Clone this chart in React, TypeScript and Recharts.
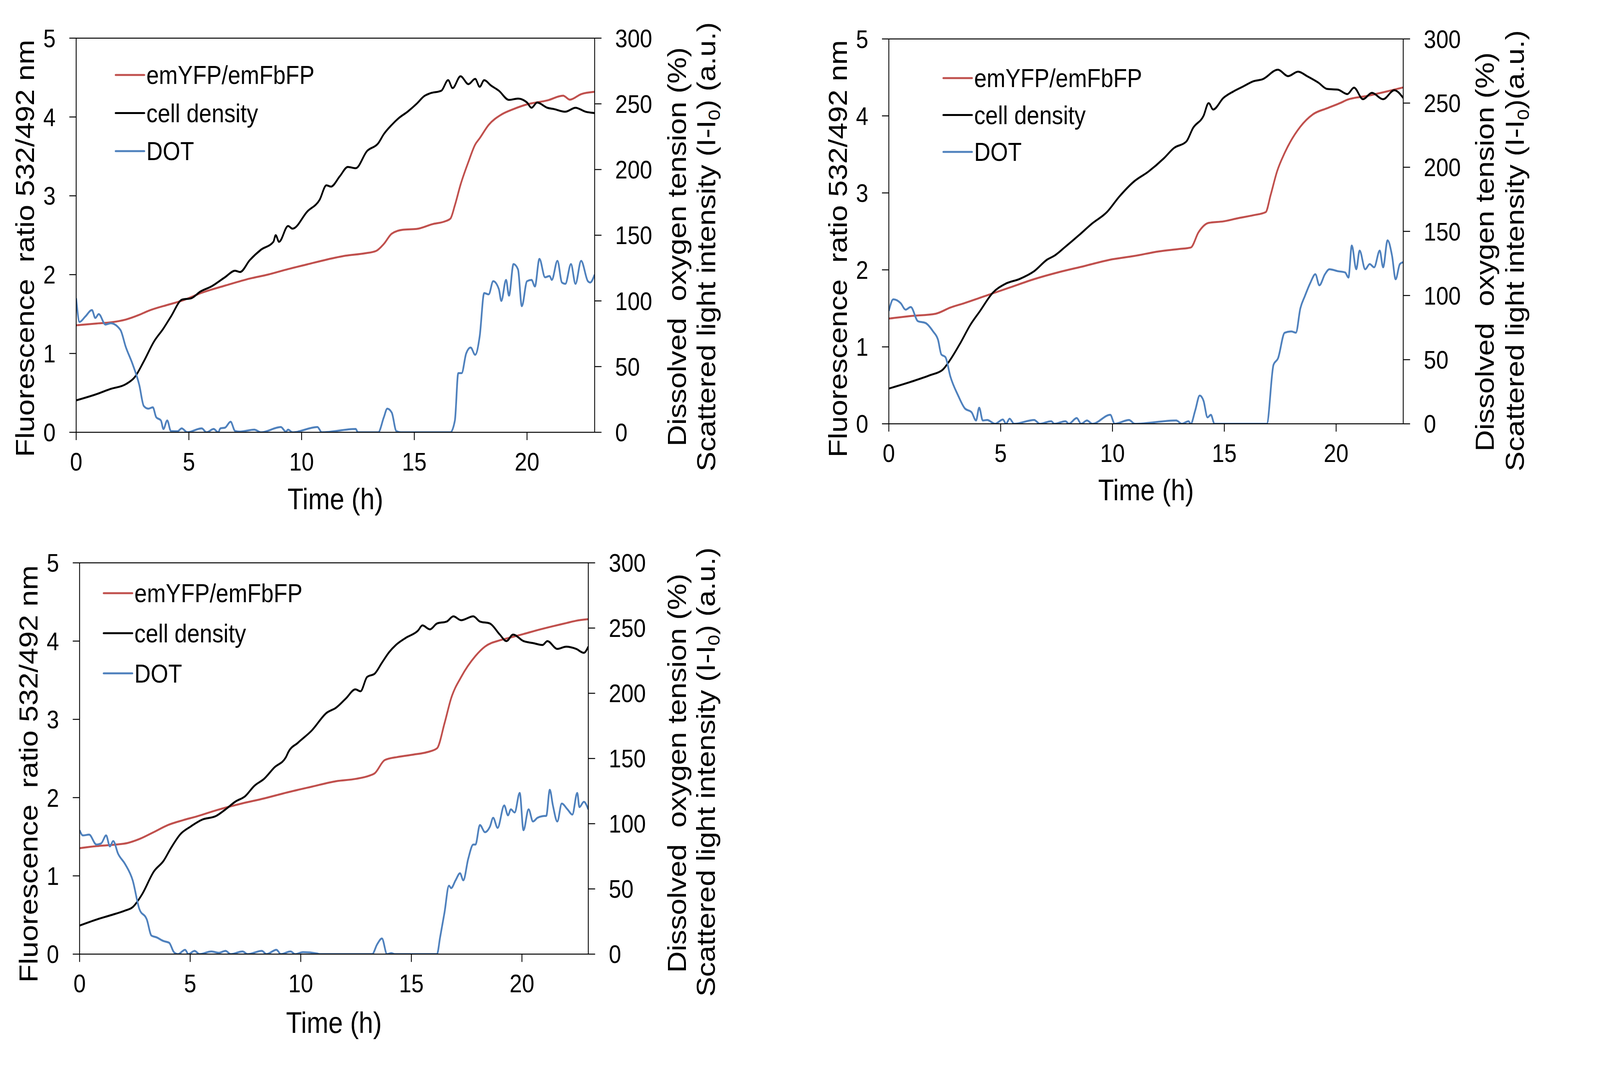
import React from 'react';
import { LineChart, Line, XAxis, YAxis, ReferenceLine, Legend } from 'recharts';

type Pt = [number, number];

// --- shared axis settings ---
const TIME_TICKS = [0, 5, 10, 15, 20];
const RATIO_TICKS = [0, 1, 2, 3, 4, 5];
const RIGHT_TICKS = [0, 50, 100, 150, 200, 250, 300];
const SERIES_NAMES = ['emYFP/emFbFP', 'cell density', 'DOT'];
const SERIES_COLORS = ['#C0504D', '#000000', '#4F81BD'];

// --- panel A (top left): [time h, value] ---
const aRatio: Pt[] = [
  [0, 1.357], [0.5, 1.37], [0.9, 1.38], [1.53, 1.395], [2.2, 1.43], [2.8, 1.49], [3.2, 1.54],
  [4.1, 1.62], [4.7, 1.67], [5.57, 1.77], [6.6, 1.86], [7.7, 1.95], [8.5, 2.0], [9.4, 2.07],
  [10.25, 2.13], [11.1, 2.19], [11.95, 2.24], [12.8, 2.27], [13.3, 2.3], [13.65, 2.39], [14.0, 2.52],
  [14.5, 2.57], [15.1, 2.58], [15.8, 2.64], [16.4, 2.68], [16.6, 2.71], [16.8, 2.88], [17.05, 3.14],
  [17.4, 3.43], [17.7, 3.65], [17.9, 3.73], [18.3, 3.9], [18.86, 4.03], [19.4, 4.1], [20.0, 4.16],
  [20.9, 4.21], [21.6, 4.27], [21.9, 4.22], [22.4, 4.29], [23, 4.32],
];
const aDensity: Pt[] = [
  [0, 24.3], [0.9, 29], [1.53, 33], [2.2, 36.6], [2.6, 42], [3.0, 54], [3.45, 69], [3.87, 79],
  [4.2, 88], [4.7, 101], [5.1, 102], [5.5, 107], [6.0, 111], [6.6, 118], [7.05, 123], [7.27, 122],
  [7.7, 131], [8.2, 139], [8.75, 145], [8.85, 150], [9.0, 145], [9.4, 157], [9.6, 155], [10.25, 168],
  [10.8, 177], [11.1, 188], [11.3, 187], [11.7, 195], [12.05, 202], [12.4, 201], [12.9, 214],
  [13.4, 220], [13.65, 227], [14.0, 234], [14.3, 239], [14.7, 244], [15.1, 250], [15.45, 256],
  [15.7, 258], [16.2, 260], [16.5, 268], [16.7, 262], [17.05, 271], [17.4, 265], [17.7, 269],
  [17.9, 263], [18.1, 268], [18.4, 264], [18.75, 260], [19.2, 253], [19.6, 254], [20.0, 251],
  [20.2, 247], [20.45, 251], [20.9, 247], [21.2, 246], [21.7, 244], [22.15, 247], [22.6, 244], [23, 243],
];
const aDot: Pt[] = [
  [0, 102], [0.15, 84], [0.4, 88], [0.7, 93], [0.85, 87], [1.0, 90], [1.3, 82], [1.53, 83],
  [1.96, 78], [2.2, 65], [2.5, 52], [2.8, 36], [3.0, 20], [3.2, 18], [3.4, 19], [3.55, 11.5],
  [3.76, 9], [3.87, 2.5], [4.04, 9], [4.2, 1], [4.5, 0.8], [4.68, 3], [4.93, 0], [5.57, 3],
  [5.78, 0], [6.1, 2.5], [6.3, 0], [6.4, 3], [6.6, 3.5], [6.85, 8], [7.05, 1], [7.27, 0.5],
  [7.9, 2], [8.2, 0], [9.08, 4], [9.3, 0.5], [9.4, 2], [9.6, 0], [10.7, 4], [10.9, 0],
  [12.4, 2.5], [12.5, 0], [13.4, 0], [13.65, 11.5], [13.8, 18], [14.0, 15], [14.2, 1], [14.4, 0],
  [16.6, 0], [16.8, 9], [16.95, 45], [17.1, 45], [17.3, 60], [17.5, 64.5], [17.7, 59], [17.9, 73],
  [18.1, 106], [18.3, 105], [18.5, 115], [18.75, 109], [18.86, 100], [19.07, 116], [19.2, 104],
  [19.4, 128], [19.6, 124], [19.77, 96], [20.0, 115], [20.2, 116], [20.35, 111], [20.55, 132],
  [20.8, 118], [21.0, 119], [21.1, 116], [21.35, 130.5], [21.55, 114], [21.7, 113], [21.95, 128],
  [22.15, 113], [22.4, 130.5], [22.7, 115], [22.8, 114], [23, 120],
];

// --- panel B (top right) ---
const bRatio: Pt[] = [
  [0, 1.367], [0.98, 1.4], [2.09, 1.43], [2.75, 1.51], [3.4, 1.57], [4.3, 1.66], [5.4, 1.77],
  [6.5, 1.88], [7.6, 1.97], [8.75, 2.05], [9.86, 2.13], [10.97, 2.18], [12.08, 2.24], [12.96, 2.27],
  [13.5, 2.29], [13.85, 2.49], [14.3, 2.61], [14.96, 2.63], [15.6, 2.67], [16.3, 2.71], [16.85, 2.75],
  [17.07, 2.97], [17.36, 3.28], [17.7, 3.52], [18.4, 3.86], [18.96, 4.02], [19.6, 4.1], [20.2, 4.17],
  [20.5, 4.21], [21.4, 4.26], [22.3, 4.32], [23, 4.37],
];
const bDensity: Pt[] = [
  [0, 27.5], [0.98, 32.7], [1.86, 38], [2.4, 42], [2.75, 50], [3.2, 63], [3.64, 77], [4.08, 88],
  [4.64, 102], [5.2, 109], [5.86, 113], [6.5, 119], [7.08, 128], [7.4, 131], [7.86, 137.5],
  [8.5, 147], [9.08, 156], [9.75, 165], [10.3, 177], [10.97, 189], [11.6, 196.5], [12.3, 207],
  [12.75, 215], [13.3, 220], [13.6, 230.5], [14.07, 240], [14.3, 250], [14.5, 245], [14.96, 254],
  [15.4, 259], [15.85, 263], [16.3, 267], [16.7, 268.5], [17.4, 276], [17.85, 271], [18.3, 274.5],
  [18.7, 271], [19.2, 266], [19.6, 261], [20.07, 260.5], [20.5, 257], [20.8, 262], [21.2, 253],
  [21.6, 258], [22.1, 253], [22.6, 260], [23, 254],
];
const bDot: Pt[] = [
  [0, 88], [0.2, 97], [0.53, 94], [0.75, 89], [0.98, 91], [1.3, 80], [1.64, 78.6], [1.98, 72],
  [2.2, 65.5], [2.35, 54], [2.53, 52], [2.75, 37], [3.1, 22], [3.4, 12], [3.7, 9], [3.9, 2.6],
  [4.04, 12.6], [4.2, 2.6], [4.4, 3], [4.75, 0], [5.1, 3.4], [5.24, 0], [5.4, 4], [5.6, 0],
  [6.5, 3], [6.75, 0], [7.26, 2], [7.4, 0], [7.9, 2], [8.05, 0], [8.4, 4.5], [8.6, 0],
  [8.86, 2.6], [9.1, 0], [9.9, 7], [10.1, 0], [10.74, 3], [11.0, 0], [12.85, 2.6], [13.1, 0],
  [13.4, 2], [13.5, 0], [13.7, 10.5], [13.9, 22], [14.07, 18], [14.25, 5], [14.4, 7], [14.56, 0],
  [16.9, 0], [17.2, 46], [17.4, 51], [17.7, 71], [18.0, 72], [18.2, 71], [18.4, 90], [18.6, 99.5],
  [18.85, 110], [19.07, 116.6], [19.25, 108], [19.5, 116.6], [19.7, 120.5], [20.07, 119],
  [20.4, 118], [20.55, 114], [20.7, 139], [20.9, 120.5], [21.05, 135], [21.3, 120.5], [21.5, 124.5],
  [21.7, 122], [21.95, 135], [22.1, 122], [22.3, 143], [22.5, 131], [22.66, 112.7], [22.85, 124.5],
  [23, 126],
];

// --- panel C (bottom left) ---
const cRatio: Pt[] = [
  [0, 1.354], [0.76, 1.38], [1.63, 1.4], [2.17, 1.42], [2.7, 1.47], [3.36, 1.56], [4.0, 1.65],
  [4.66, 1.71], [5.3, 1.76], [6.2, 1.84], [7.27, 1.92], [8.35, 1.99], [9.44, 2.07], [10.5, 2.14],
  [11.6, 2.21], [12.5, 2.24], [13.1, 2.28], [13.34, 2.31], [13.8, 2.48], [14.4, 2.52], [15.1, 2.55],
  [15.7, 2.58], [16.16, 2.63], [16.5, 2.95], [16.8, 3.27], [17.25, 3.54], [17.9, 3.81], [18.33, 3.93],
  [19.0, 4.01], [19.4, 4.04], [20.07, 4.09], [20.7, 4.14], [21.4, 4.19], [22.0, 4.23], [22.45, 4.26],
  [23, 4.28],
];
const cDensity: Pt[] = [
  [0, 21.9], [0.76, 26.5], [1.4, 29.8], [2.06, 33.4], [2.4, 36], [2.82, 45.7], [3.36, 63.4],
  [3.8, 71.6], [4.12, 81], [4.56, 92], [5.0, 97.6], [5.53, 103], [6.18, 106], [6.6, 111], [7.05, 117],
  [7.48, 121], [7.9, 129], [8.35, 134.5], [8.8, 143], [9.33, 151], [9.44, 155], [9.87, 162],
  [10.5, 171.5], [11.17, 185], [11.6, 189], [12.04, 196], [12.47, 203], [12.7, 201.5], [13.0, 212.5],
  [13.34, 215], [13.67, 223.4], [14.0, 231.6], [14.3, 237], [14.75, 242.5], [15.3, 248], [15.5, 252],
  [15.84, 249], [16.16, 253.5], [16.6, 255], [16.9, 259], [17.25, 256], [17.8, 259], [18.1, 255],
  [18.55, 253.5], [19.0, 245], [19.3, 240], [19.6, 245], [20.07, 240], [20.5, 238.5], [20.93, 237],
  [21.15, 240], [21.6, 234], [22.0, 235.7], [22.45, 234], [22.8, 231], [23, 235.7],
];
const cDot: Pt[] = [
  [0, 95], [0.15, 91], [0.43, 91.6], [0.76, 84], [0.98, 85], [1.2, 91], [1.37, 82.6], [1.52, 86.7],
  [1.74, 77], [2.06, 69], [2.4, 56.6], [2.7, 34.7], [3.04, 26.5], [3.25, 14.2], [3.47, 12.9],
  [3.8, 10], [4.05, 8.7], [4.27, 1.4], [4.45, 0], [4.77, 3.3], [4.92, 0], [5.2, 2.5], [5.42, 0],
  [5.96, 2], [6.3, 1], [6.6, 2.5], [6.83, 0], [7.37, 2], [7.6, 0], [8.24, 2.5], [8.45, 0],
  [8.9, 3.3], [9.1, 0], [9.54, 2], [9.75, 0], [10.1, 1.5], [10.74, 0.5], [10.85, 0], [13.23, 0],
  [13.45, 7.4], [13.67, 12], [13.9, 0], [14.1, 0.8], [14.25, 0], [16.16, 0], [16.3, 12.9], [16.5, 32],
  [16.7, 52.5], [16.8, 50.6], [17.0, 56.6], [17.2, 62], [17.35, 56.6], [17.57, 73], [17.8, 84],
  [17.9, 84], [18.1, 99], [18.33, 93.5], [18.55, 97.6], [18.7, 104.5], [18.9, 96.8], [19.2, 114],
  [19.37, 106.4], [19.5, 111], [19.67, 108.6], [19.9, 123.6], [20.07, 95], [20.3, 111], [20.5, 101.7],
  [20.7, 104.5], [20.93, 105.8], [21.1, 106], [21.26, 126], [21.4, 114], [21.6, 101.7], [21.8, 115.4],
  [22.06, 111], [22.28, 107], [22.5, 123.6], [22.6, 112.7], [22.8, 116.8], [23, 111],
];

const toRows = (pts: Pt[]) => pts.map(([t, v]) => ({ t, v }));

const PAGE_W = 4678;
const PAGE_H = 2781;
const FONT = '"Liberation Sans", Arial, sans-serif';
const TICK_FONT = 65;
const TITLE_FONT = 76;
const LEGEND_FONT = 66;
const AXIS_STYLE = { stroke: '#000', strokeWidth: 2.5 };

interface PanelProps {
  left: number;
  top: number;
  width: number;
  height: number;
  plot: { l: number; t: number; r: number; b: number };
  ratio: Pt[];
  density: Pt[];
  dot: Pt[];
  legend: { x: number; y: number; gap: number };
  leftTitle: { x: number; y: number };
  rightTitle: { x1: number; x2: number; y1: number; y2: number; spaced: boolean };
  xTitle: { x: number; y: number };
}

const Panel: React.FC<PanelProps> = (p) => {
  const rightW = 420;
  const xH = 220;
  const margin = {
    top: p.plot.t,
    left: 0,
    right: p.width - p.plot.r - rightW,
    bottom: p.height - p.plot.b - xH,
  };
  const series = [p.ratio, p.density, p.dot];

  const legendBox = () => (
    <svg width={700} height={p.legend.gap * 2 + 80} style={{ display: 'block', overflow: 'visible' }}>
      {SERIES_NAMES.map((name, i) => {
        const y = 40 + i * p.legend.gap;
        return (
          <g key={name}>
            <line x1={2} x2={86} y1={y} y2={y} stroke={SERIES_COLORS[i]} strokeWidth={5} strokeLinecap="round" />
            <text x={92} y={y} dy="0.355em" fontSize={LEGEND_FONT} fill="#000" fontFamily={FONT}>{name}</text>
          </g>
        );
      })}
    </svg>
  );

  const leftTitle = () => (
    <text
      x={p.leftTitle.x}
      y={p.leftTitle.y}
      transform={`rotate(-90, ${p.leftTitle.x}, ${p.leftTitle.y})`}
      textAnchor="middle"
      fontSize={TITLE_FONT}
      fill="#000"
    >
      Fluorescence{'\u00a0 '}ratio 532/492 nm
    </text>
  );

  const rightTitle = () => {
    const r = p.rightTitle;
    return (
      <g fontSize={TITLE_FONT} fill="#000">
        <text x={r.x1} y={r.y1} transform={`rotate(-90, ${r.x1}, ${r.y1})`} textAnchor="middle">
          Dissolved{'\u00a0 '}oxygen tension (%)
        </text>
        <text x={r.x2} y={r.y2} transform={`rotate(-90, ${r.x2}, ${r.y2})`} textAnchor="middle">
          Scattered light intensity (I-I
          <tspan fontSize={TITLE_FONT * 0.65} dy={14}>0</tspan>
          <tspan dy={-14}>){r.spaced ? ' ' : ''}(a.u.)</tspan>
        </text>
      </g>
    );
  };

  const xTitle = () => (
    <text x={p.xTitle.x} y={p.xTitle.y} textAnchor="middle" fontSize={TITLE_FONT} fill="#000">
      Time (h)
    </text>
  );

  return (
    <div style={{ position: 'absolute', left: p.left, top: p.top, width: p.width, height: p.height }}>
      <LineChart width={p.width} height={p.height} margin={margin} style={{ fontFamily: FONT }}>
        <XAxis
          type="number"
          dataKey="t"
          domain={[0, 23]}
          ticks={TIME_TICKS}
          interval={0}
          allowDataOverflow
          height={xH}
          tickSize={20}
          tickMargin={32}
          axisLine={AXIS_STYLE}
          tickLine={AXIS_STYLE}
          tick={{ fill: '#000', fontSize: TICK_FONT }}
          label={xTitle}
        />
        <YAxis
          yAxisId="left"
          orientation="left"
          domain={[0, 5]}
          ticks={RATIO_TICKS}
          interval={0}
          allowDataOverflow
          width={p.plot.l}
          tickSize={20}
          tickMargin={40}
          axisLine={AXIS_STYLE}
          tickLine={AXIS_STYLE}
          tick={{ fill: '#000', fontSize: TICK_FONT }}
          label={leftTitle}
        />
        <YAxis
          yAxisId="right"
          orientation="right"
          domain={[0, 300]}
          ticks={RIGHT_TICKS}
          interval={0}
          allowDataOverflow
          width={rightW}
          tickSize={20}
          tickMargin={40}
          axisLine={AXIS_STYLE}
          tickLine={AXIS_STYLE}
          tick={{ fill: '#000', fontSize: TICK_FONT }}
          label={rightTitle}
        />
        <ReferenceLine yAxisId="left" y={5} stroke="#000" strokeWidth={2.5} />
        <Legend
          layout="vertical"
          align="center"
          verticalAlign="middle"
          content={legendBox}
          wrapperStyle={{
            position: 'absolute',
            left: p.legend.x,
            top: p.legend.y - 40,
            right: 'auto',
            bottom: 'auto',
            width: 700,
            margin: 0,
          }}
        />
        {series.map((pts, i) => (
          <Line
            key={SERIES_NAMES[i]}
            name={SERIES_NAMES[i]}
            yAxisId={i === 0 ? 'left' : 'right'}
            data={toRows(pts)}
            dataKey="v"
            type="monotone"
            stroke={SERIES_COLORS[i]}
            strokeWidth={5}
            dot={false}
            activeDot={false}
            isAnimationActive={false}
          />
        ))}
      </LineChart>
    </div>
  );
};

export default function App() {
  // the browser caps the window below the figure width; squeeze horizontally so all of it fits
  const sx = typeof window !== 'undefined' ? Math.min(1, window.innerWidth / PAGE_W) : 1;
  return (
    <div
      style={{
        position: 'absolute',
        left: 0,
        top: 0,
        width: PAGE_W * sx,
        height: PAGE_H,
        overflow: 'hidden',
        background: '#fff',
      }}
    >
      <div
        style={{
          position: 'absolute',
          left: 0,
          top: 0,
          width: PAGE_W,
          height: PAGE_H,
          background: '#fff',
          fontFamily: FONT,
          transform: `scale(${sx}, 1)`,
          transformOrigin: '0 0',
        }}
      >
        <Panel
          left={0}
          top={0}
          width={2250}
          height={1350}
          plot={{ l: 222.7, t: 97.7, r: 1738.6, b: 1107 }}
          ratio={aRatio}
          density={aDensity}
          dot={aDot}
          legend={{ x: 336, y: 192, gap: 97.5 }}
          leftTitle={{ x: 99.7, y: 636 }}
          rightTitle={{ x1: 2005, x2: 2091, y1: 632, y2: 632, spaced: true }}
          xTitle={{ x: 980.6, y: 1304 }}
        />
        <Panel
          left={2400}
          top={0}
          width={2278}
          height={1350}
          plot={{ l: 198.7, t: 99.7, r: 1702.7, b: 1085.3 }}
          ratio={bRatio}
          density={bDensity}
          dot={bDot}
          legend={{ x: 356, y: 200, gap: 94.5 }}
          leftTitle={{ x: 75.7, y: 637 }}
          rightTitle={{ x1: 1967.7, x2: 2055.7, y1: 645, y2: 642, spaced: false }}
          xTitle={{ x: 950.7, y: 1281 }}
        />
        <Panel
          left={0}
          top={1350}
          width={2250}
          height={1431}
          plot={{ l: 232.7, t: 91.3, r: 1720, b: 1093.3 }}
          ratio={cRatio}
          density={cDensity}
          dot={cDot}
          legend={{ x: 301, y: 168.8, gap: 102.6 }}
          leftTitle={{ x: 109.7, y: 632 }}
          rightTitle={{ x1: 2006, x2: 2090, y1: 630, y2: 627, spaced: true }}
          xTitle={{ x: 976.4, y: 1295 }}
        />
      </div>
    </div>
  );
}
